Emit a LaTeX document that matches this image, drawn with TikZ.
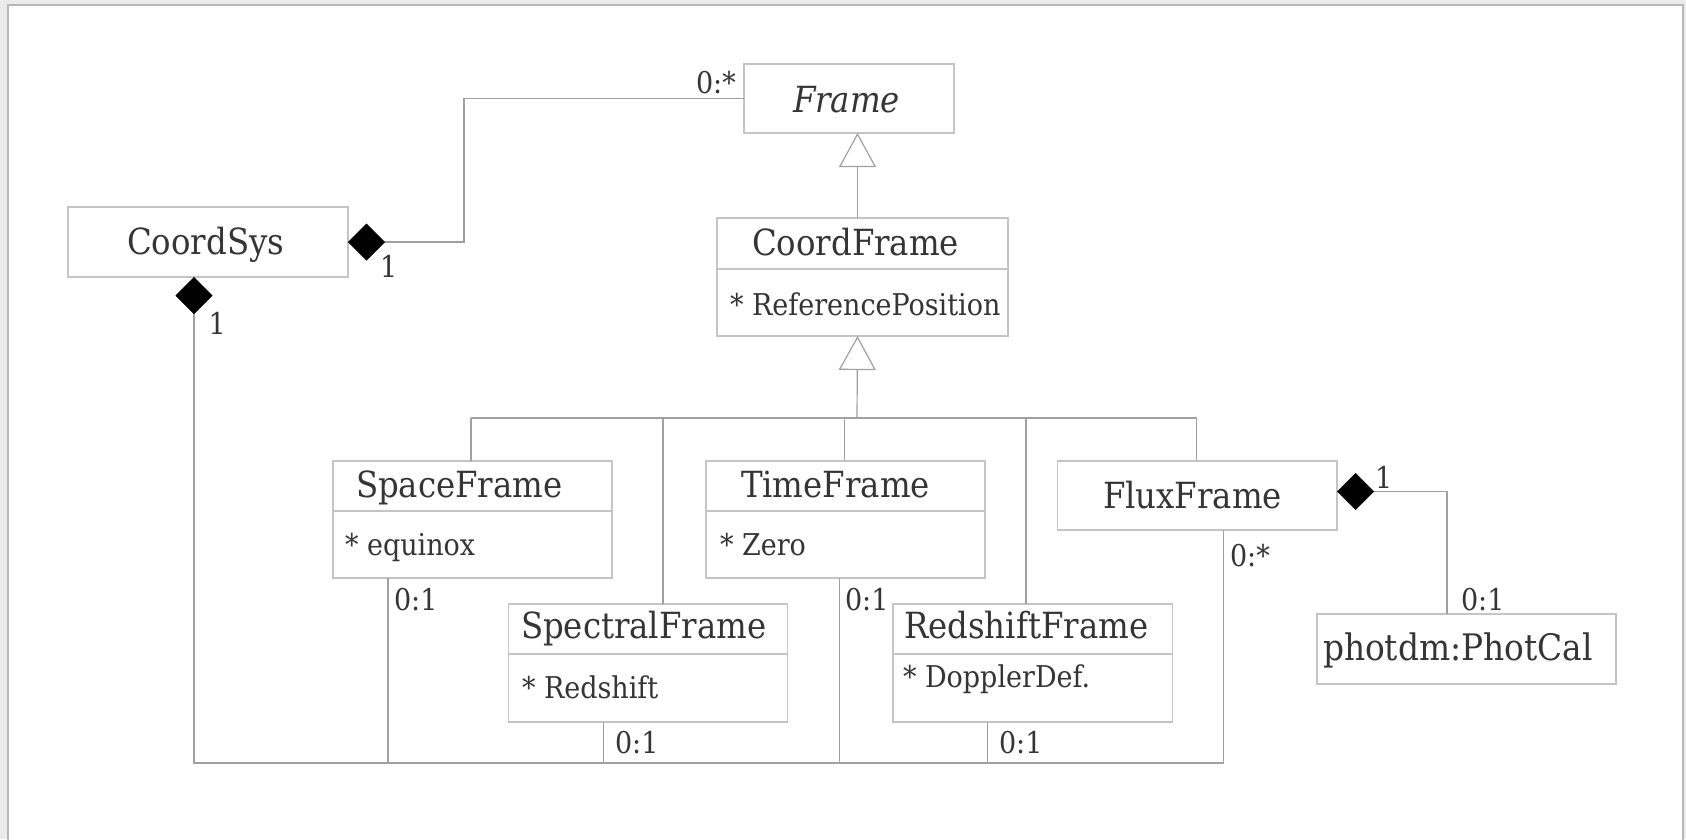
\documentclass[tikz,border=0pt]{standalone}
\usepackage{fontspec}
\setmainfont{DejaVu Serif Condensed}
\usetikzlibrary{arrows.meta}

\definecolor{ink}{HTML}{353535}
\definecolor{boxline}{HTML}{C4C4C4}
\definecolor{wirecol}{HTML}{A0A0A0}
\definecolor{canvas}{HTML}{EBEBEB}
\definecolor{pageedge}{HTML}{B8B8B8}

\begin{document}
\begin{tikzpicture}[x=1pt,y=-1pt,
  classbox/.style={draw=boxline, line width=1.2pt, fill=white, rectangle, inner sep=0pt, outer sep=0pt},
  txt/.style={text=ink, inner sep=0pt, outer sep=0pt, anchor=base west},
  classname/.style={txt, font=\fontsize{36}{36}\selectfont},
  attr/.style={txt, font=\fontsize{30}{30}\selectfont},
  mult/.style={txt, font=\fontsize{30}{30}\selectfont},
  divider/.style={draw=boxline, line width=1.2pt},
  wire/.style={draw=wirecol, line width=1.2pt},
  compose/.style={wire, {Diamond[length=37pt,width=37pt,color=black,fill=black,line width=0.5pt]}-},
  generalize/.style={wire, -{Triangle[open,length=34pt,width=37pt]}},
]
\useasboundingbox (0,0) rectangle (1686,839);

% page background
\fill[canvas] (0,0) rectangle (1686,839);
\fill[white] (8,5) rectangle (1683,845);
\draw[pageedge, line width=1.6pt] (8,845) -- (8,5) -- (1683,5) -- (1683,845);

% class boxes
\node[classbox, minimum width=210pt, minimum height=69pt]  (Frame)         at (849,98.5)    {};
\node[classbox, minimum width=280pt, minimum height=70pt]  (CoordSys)      at (208,242)     {};
\node[classbox, minimum width=291pt, minimum height=118pt] (CoordFrame)    at (862.5,277)   {};
\node[classbox, minimum width=279pt, minimum height=117pt] (SpaceFrame)    at (472.5,519.5) {};
\node[classbox, minimum width=279pt, minimum height=117pt] (TimeFrame)     at (845.5,519.5) {};
\node[classbox, minimum width=279pt, minimum height=118pt] (SpectralFrame) at (648,663)     {};
\node[classbox, minimum width=279.5pt, minimum height=118pt] (RedshiftFrame) at (1032.75,663) {};
\node[classbox, minimum width=279.5pt, minimum height=69pt] (FluxFrame)    at (1197.25,495.5) {};
\node[classbox, minimum width=299pt, minimum height=70pt]  (PhotCal)       at (1466.5,649)  {};

% compartment dividers
\draw[divider] ([yshift=-51pt]CoordFrame.north west) -- ([yshift=-51pt]CoordFrame.north east);
\draw[divider] ([yshift=-50pt]SpaceFrame.north west) -- ([yshift=-50pt]SpaceFrame.north east);
\draw[divider] ([yshift=-50pt]TimeFrame.north west) -- ([yshift=-50pt]TimeFrame.north east);
\draw[divider] ([yshift=-50pt]SpectralFrame.north west) -- ([yshift=-50pt]SpectralFrame.north east);
\draw[divider] ([yshift=-50pt]RedshiftFrame.north west) -- ([yshift=-50pt]RedshiftFrame.north east);

% class names and attributes
\node[classname, font=\fontsize{36}{36}\selectfont\itshape] (tFrame) at (793,112) {Frame};
\node[classname] (tCoordSys)      at (127,254)  {CoordSys};
\node[classname] (tCoordFrame)    at (752,255)  {CoordFrame};
\node[attr]      (aCoordFrame)    at (730,315)  {* ReferencePosition};
\node[classname] (tSpaceFrame)    at (356,497)  {SpaceFrame};
\node[attr]      (aSpaceFrame)    at (345,555)  {* equinox};
\node[classname] (tTimeFrame)     at (741,497)  {TimeFrame};
\node[attr]      (aTimeFrame)     at (720,555)  {* Zero};
\node[classname] (tSpectralFrame) at (521,638)  {SpectralFrame};
\node[attr]      (aSpectralFrame) at (522,698)  {* Redshift};
\node[classname] (tRedshiftFrame) at (904,638)  {RedshiftFrame};
\node[attr]      (aRedshiftFrame) at (903,687)  {* DopplerDef.};
\node[classname] (tFluxFrame)     at (1103,508) {FluxFrame};
\node[classname, font=\fontsize{36.5}{36.5}\selectfont] (tPhotCal) at (1323,660) {photdm:PhotCal};

% CoordSys aggregates Frame
\coordinate (assocBend) at (464,0);
\draw[compose] (CoordSys.east) -- (CoordSys.east -| assocBend) |- (Frame.west);

% generalisation: CoordFrame is a Frame
\draw[generalize] ([xshift=-5pt]CoordFrame.north) -- ([xshift=8.5pt]Frame.south);

% generalisation tree of the concrete frames
\coordinate (genBus) at (857,418);
\coordinate (busTL)  at (471,418);
\coordinate (busTR)  at (1196.5,418);
\draw[generalize] (genBus) -- ([xshift=-5pt]CoordFrame.south);
\draw[wire] (busTL) -- (busTR);
\draw[wire] (busTL) -- (busTL |- SpaceFrame.north);
\draw[wire] ([xshift=15pt]SpectralFrame.north) coordinate (spTop) -- (spTop |- busTL);
\draw[wire] ([xshift=-1pt]TimeFrame.north) coordinate (tiTop) -- (tiTop |- busTL);
\draw[wire] ([xshift=-6.75pt]RedshiftFrame.north) coordinate (rsTop) -- (rsTop |- busTL);
\draw[wire] (busTR) -- (busTR |- FluxFrame.north);

% CoordSys composes the concrete frames
\coordinate (busL) at (194,763);
\coordinate (busR) at (1224,763);
\draw[compose] ([xshift=-14pt]CoordSys.south) -- (busL) -- (busR);
\draw[wire] ([xshift=-84.5pt]SpaceFrame.south) coordinate (sfFoot) -- (sfFoot |- busL);
\draw[wire] ([xshift=-44.4pt]SpectralFrame.south) coordinate (spFoot) -- (spFoot |- busL);
\draw[wire] ([xshift=-6.2pt]TimeFrame.south) coordinate (tiFoot) -- (tiFoot |- busL);
\draw[wire] ([xshift=-45pt]RedshiftFrame.south) coordinate (rsFoot) -- (rsFoot |- busL);
\draw[wire] ([xshift=26.5pt]FluxFrame.south) coordinate (flFoot) -- (flFoot |- busL);

% FluxFrame composes the photometric calibration
\draw[compose] ([yshift=4pt]FluxFrame.east) -| ([xshift=-19.5pt]PhotCal.north);

% multiplicities
\node[mult] (mFrame)    at (696,93)    {0:*};
\node[mult] (mCsRight)  at (380,277)   {1};
\node[mult] (mCsBelow)  at (208.5,334) {1};
\node[mult] (mSpace)    at (394,610)   {0:1};
\node[mult] (mTime)     at (845,610)   {0:1};
\node[mult] (mSpectral) at (615,753)   {0:1};
\node[mult] (mRedshift) at (999,753)   {0:1};
\node[mult] (mFlux)     at (1230,566)  {0:*};
\node[mult] (mFluxOne)  at (1375,488)  {1};
\node[mult] (mPhotCal)  at (1461,610)  {0:1};
\end{tikzpicture}
\end{document}
